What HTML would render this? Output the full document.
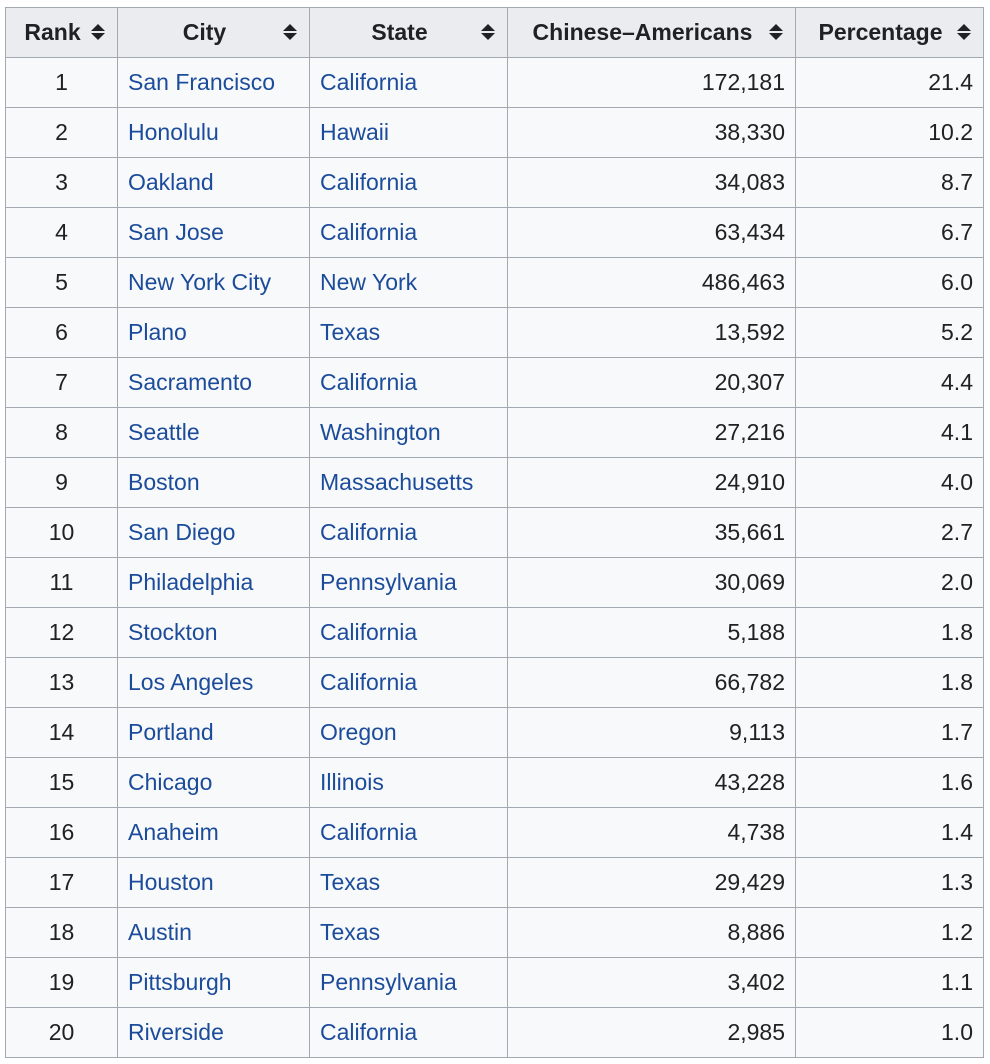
<!DOCTYPE html>
<html><head><meta charset="utf-8"><style>
body{margin:0;background:#fff;width:990px;height:1064px;font-family:"Liberation Sans",sans-serif;}
table{position:absolute;left:5px;top:7px;border-collapse:collapse;table-layout:fixed;background:#f8f9fa;font-size:23px;color:#202122;}
td,th{border:1px solid #a2a9b1;height:50px;padding:0 10px;white-space:nowrap;overflow:hidden;box-sizing:border-box;}
th{background:#eaecf0;font-weight:bold;text-align:center;position:relative;padding-right:28px;}
th:after{content:"";position:absolute;right:12px;top:16px;width:0;height:0;border-left:7px solid transparent;border-right:7px solid transparent;border-bottom:7px solid #202122;}
th:before{content:"";position:absolute;right:12px;top:25px;width:0;height:0;border-left:7px solid transparent;border-right:7px solid transparent;border-top:7px solid #202122;}
td.c{text-align:center}td.r{text-align:right}
a{color:#1b4b9b;text-decoration:none}
</style></head><body>
<table>
<colgroup><col style="width:112px"><col style="width:192px"><col style="width:198px"><col style="width:288px"><col style="width:188px"></colgroup>
<tr><th>Rank</th><th>City</th><th>State</th><th>Chinese–Americans</th><th>Percentage</th></tr>
<tr><td class="c">1</td><td><a>San Francisco</a></td><td><a>California</a></td><td class="r">172,181</td><td class="r">21.4</td></tr>
<tr><td class="c">2</td><td><a>Honolulu</a></td><td><a>Hawaii</a></td><td class="r">38,330</td><td class="r">10.2</td></tr>
<tr><td class="c">3</td><td><a>Oakland</a></td><td><a>California</a></td><td class="r">34,083</td><td class="r">8.7</td></tr>
<tr><td class="c">4</td><td><a>San Jose</a></td><td><a>California</a></td><td class="r">63,434</td><td class="r">6.7</td></tr>
<tr><td class="c">5</td><td><a>New York City</a></td><td><a>New York</a></td><td class="r">486,463</td><td class="r">6.0</td></tr>
<tr><td class="c">6</td><td><a>Plano</a></td><td><a>Texas</a></td><td class="r">13,592</td><td class="r">5.2</td></tr>
<tr><td class="c">7</td><td><a>Sacramento</a></td><td><a>California</a></td><td class="r">20,307</td><td class="r">4.4</td></tr>
<tr><td class="c">8</td><td><a>Seattle</a></td><td><a>Washington</a></td><td class="r">27,216</td><td class="r">4.1</td></tr>
<tr><td class="c">9</td><td><a>Boston</a></td><td><a>Massachusetts</a></td><td class="r">24,910</td><td class="r">4.0</td></tr>
<tr><td class="c">10</td><td><a>San Diego</a></td><td><a>California</a></td><td class="r">35,661</td><td class="r">2.7</td></tr>
<tr><td class="c">11</td><td><a>Philadelphia</a></td><td><a>Pennsylvania</a></td><td class="r">30,069</td><td class="r">2.0</td></tr>
<tr><td class="c">12</td><td><a>Stockton</a></td><td><a>California</a></td><td class="r">5,188</td><td class="r">1.8</td></tr>
<tr><td class="c">13</td><td><a>Los Angeles</a></td><td><a>California</a></td><td class="r">66,782</td><td class="r">1.8</td></tr>
<tr><td class="c">14</td><td><a>Portland</a></td><td><a>Oregon</a></td><td class="r">9,113</td><td class="r">1.7</td></tr>
<tr><td class="c">15</td><td><a>Chicago</a></td><td><a>Illinois</a></td><td class="r">43,228</td><td class="r">1.6</td></tr>
<tr><td class="c">16</td><td><a>Anaheim</a></td><td><a>California</a></td><td class="r">4,738</td><td class="r">1.4</td></tr>
<tr><td class="c">17</td><td><a>Houston</a></td><td><a>Texas</a></td><td class="r">29,429</td><td class="r">1.3</td></tr>
<tr><td class="c">18</td><td><a>Austin</a></td><td><a>Texas</a></td><td class="r">8,886</td><td class="r">1.2</td></tr>
<tr><td class="c">19</td><td><a>Pittsburgh</a></td><td><a>Pennsylvania</a></td><td class="r">3,402</td><td class="r">1.1</td></tr>
<tr><td class="c">20</td><td><a>Riverside</a></td><td><a>California</a></td><td class="r">2,985</td><td class="r">1.0</td></tr>
</table>
</body></html>
